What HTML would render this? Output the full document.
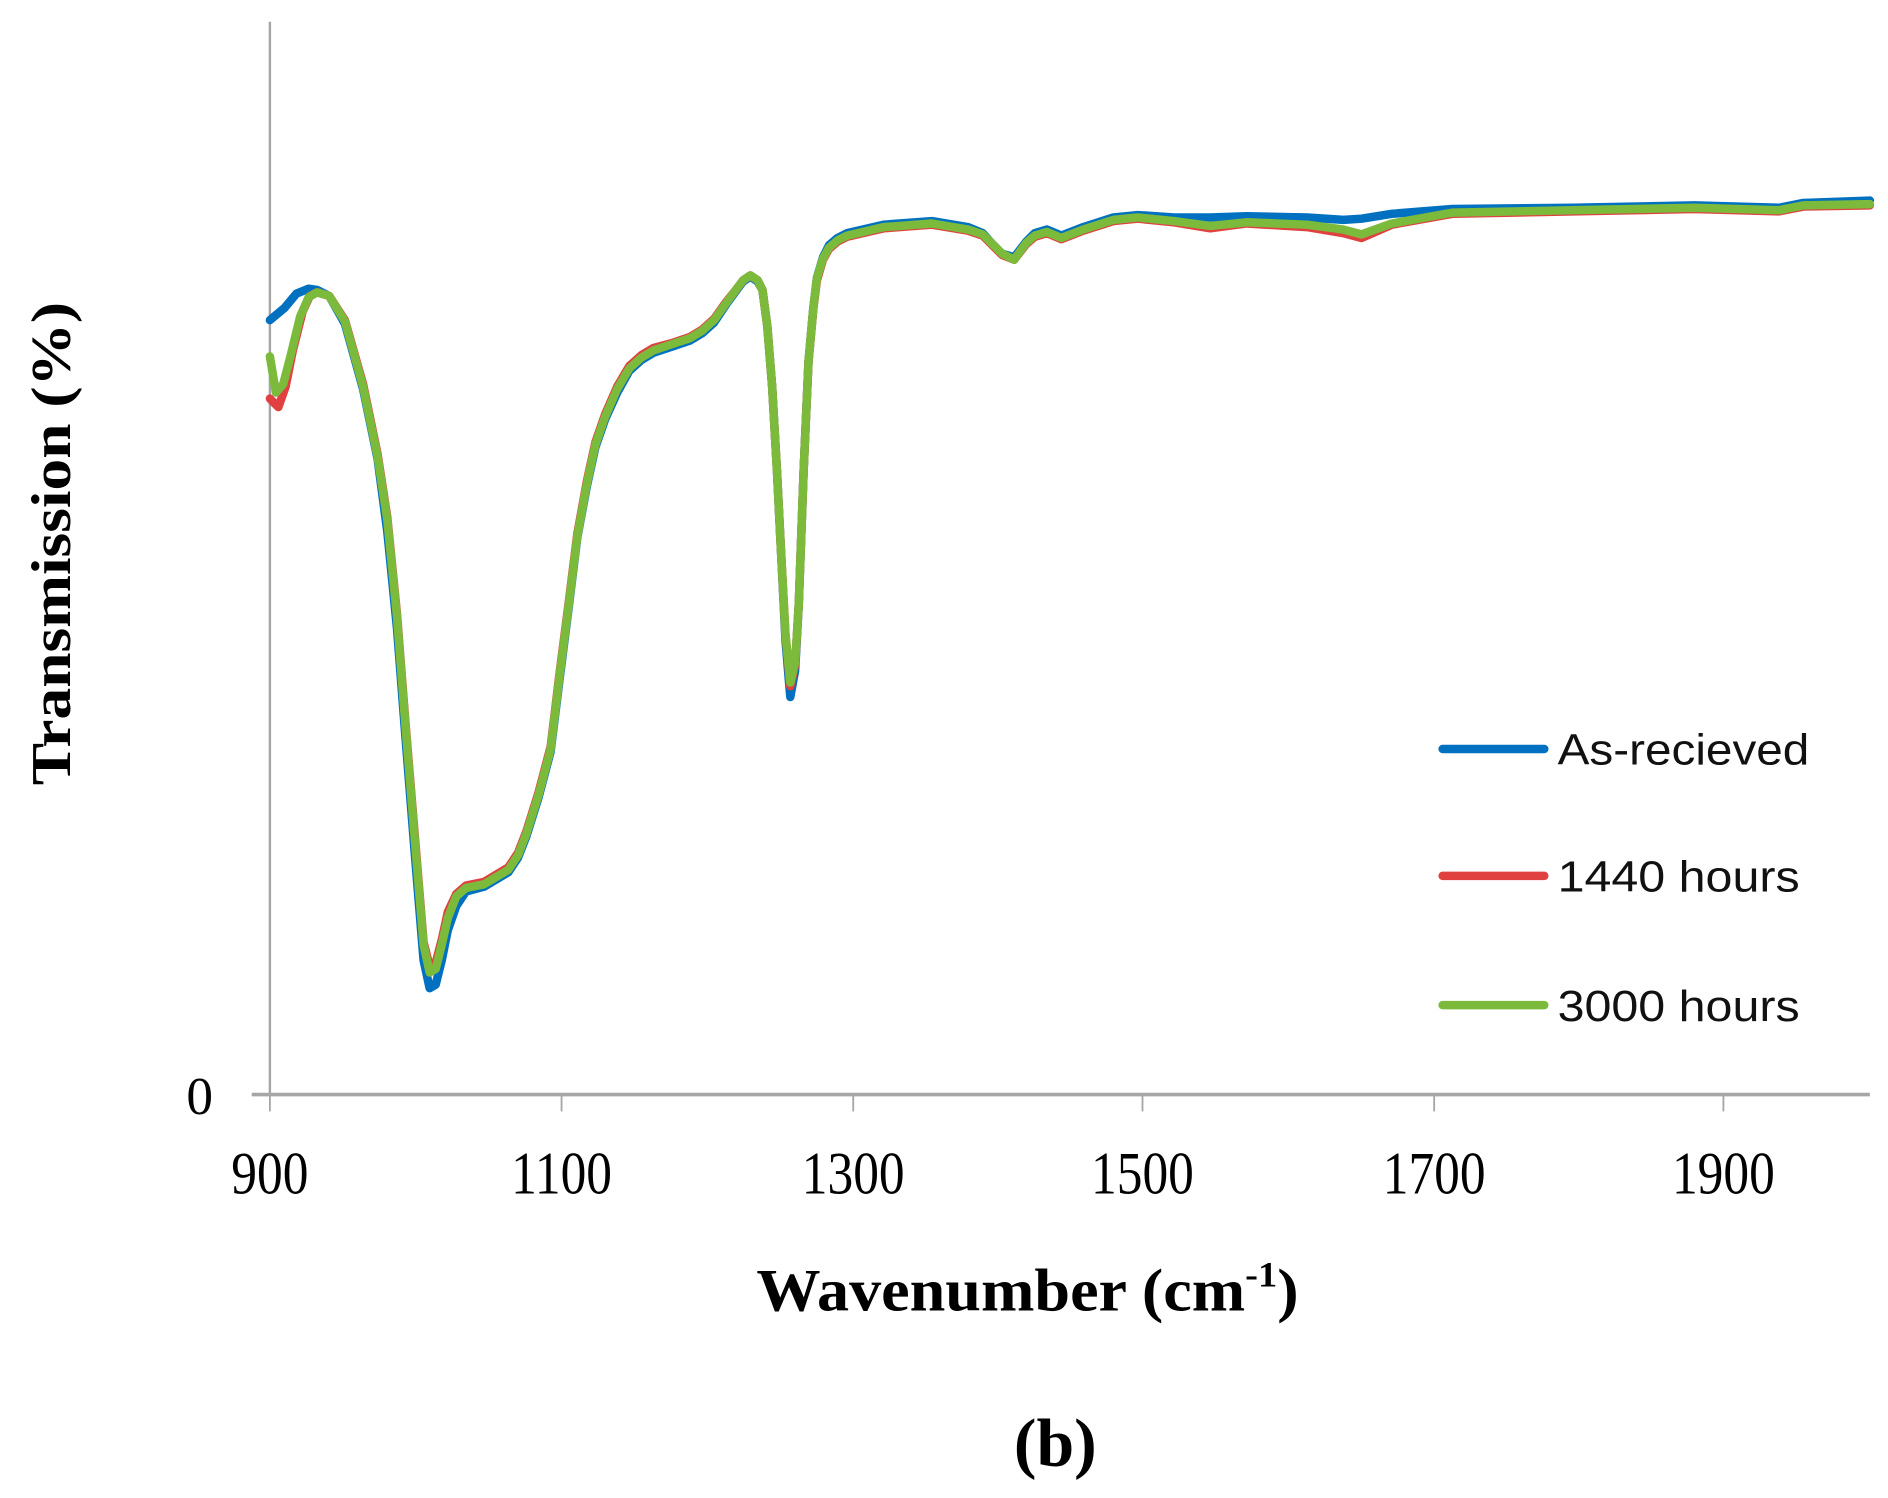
<!DOCTYPE html>
<html><head><meta charset="utf-8"><style>
html,body{margin:0;padding:0;background:#fff}
svg{display:block}
</style></head><body>
<svg width="1888" height="1498" viewBox="0 0 1560 1240" preserveAspectRatio="none" xmlns="http://www.w3.org/2000/svg">
<rect width="1560" height="1240" fill="#fff"/>
<line x1="223" y1="18" x2="223" y2="906" stroke="#a6a6a6" stroke-width="2"/>
<line x1="208" y1="906" x2="1545" y2="906" stroke="#a6a6a6" stroke-width="3"/>
<g stroke="#a6a6a6" stroke-width="1.5">
<line x1="223" y1="906" x2="223" y2="920"/><line x1="464" y1="906" x2="464" y2="920"/><line x1="705" y1="906" x2="705" y2="920"/><line x1="944" y1="906" x2="944" y2="920"/><line x1="1185" y1="906" x2="1185" y2="920"/><line x1="1424" y1="906" x2="1424" y2="920"/>
</g>
<g font-family="Liberation Serif, serif" font-size="50" fill="#000" text-anchor="middle">
<text x="223" y="988" transform="translate(223,0) scale(0.85,1) translate(-223,0)">900</text>
<text x="464" y="988" transform="translate(464,0) scale(0.85,1) translate(-464,0)">1100</text>
<text x="705" y="988" transform="translate(705,0) scale(0.85,1) translate(-705,0)">1300</text>
<text x="944" y="988" transform="translate(944,0) scale(0.85,1) translate(-944,0)">1500</text>
<text x="1185" y="988" transform="translate(1185,0) scale(0.85,1) translate(-1185,0)">1700</text>
<text x="1424" y="988" transform="translate(1424,0) scale(0.85,1) translate(-1424,0)">1900</text>
<text x="165" y="922" font-size="44">0</text>
</g>
<g fill="none" stroke-linejoin="round" stroke-linecap="round" stroke-width="7">
<polyline stroke="#0070c0" points="223,265 235,255 245,243 255,239 262,240 272,245 285,268 300,322 312,380 320,440 328,520 335,610 343,710 350,795 355,818 360,815 365,795 370,770 377,750 385,738 400,734 420,722 428,710 435,692 445,660 455,622 462,565 470,502 477,445 485,402 492,370 500,347 510,325 520,307 530,298 540,292 555,287 570,282 580,276 590,267 600,252 608,241 614,233 620,229 626,233 630,240 634,270 638,320 642,390 645,450 649,530 653,577 657,555 660,500 664,390 668,300 672,255 675,230 680,213 685,203 692,197 700,193 730,186 770,183 800,188 812,193 820,202 828,210 838,213 848,200 855,193 865,190 877,195 895,188 920,180 940,178 970,180 1000,180 1030,179 1080,180 1110,182 1125,181 1150,177 1200,173 1300,172 1400,170 1470,172 1490,168 1545,166"/>
<polyline stroke="#e04040" points="223,330 230,337 236,320 242,290 250,258 256,245 262,242 272,245 285,265 300,318 312,376 320,428 328,508 335,598 343,695 350,780 355,800 360,797 365,778 370,755 377,740 385,733 400,730 420,718 428,706 435,688 445,656 455,618 462,560 470,498 477,442 485,398 492,366 500,343 510,320 520,303 530,294 540,288 555,284 570,279 580,273 590,264 600,250 608,240 614,232 620,228 626,232 630,240 634,270 638,320 642,390 645,450 649,525 653,568 657,550 660,500 664,390 668,300 672,256 675,232 680,215 685,206 692,200 700,196 730,189 770,186 800,191 812,195 820,203 828,211 838,215 848,202 855,196 865,193 877,198 895,191 920,183 940,181 970,184 1000,189 1030,185 1080,188 1110,193 1125,197 1150,186 1200,177 1300,175 1400,173 1470,175 1490,171 1545,170"/>
<polyline stroke="#7cba3c" points="223,295 228,325 234,318 240,295 248,262 255,246 262,242 272,245 285,266 300,320 312,378 320,430 328,510 335,600 343,698 350,782 355,805 360,802 365,782 370,760 377,742 385,735 400,732 420,720 428,708 435,690 445,658 455,620 462,562 470,500 477,444 485,400 492,368 500,345 510,322 520,305 530,296 540,290 555,285 570,280 580,274 590,265 600,251 608,240 614,232 620,228 626,232 630,240 634,270 638,320 642,390 645,450 649,525 653,565 657,548 660,500 664,390 668,300 672,255 675,230 680,214 685,205 692,199 700,195 730,188 770,185 800,190 812,194 820,202 828,210 838,215 848,201 855,195 865,192 877,197 895,190 920,182 940,180 970,183 1000,187 1030,184 1080,186 1110,190 1125,194 1150,185 1200,176 1300,174 1400,172 1470,174 1490,170 1545,169"/>
</g>
<g stroke-width="7" stroke-linecap="round">
<line x1="1192" y1="620" x2="1276" y2="620" stroke="#0070c0"/>
<line x1="1192" y1="725" x2="1276" y2="725" stroke="#e04040"/>
<line x1="1192" y1="832" x2="1276" y2="832" stroke="#7cba3c"/>
</g>
<g font-family="Liberation Sans, sans-serif" font-size="36" fill="#111">
<text x="1287" y="633" textLength="208" lengthAdjust="spacingAndGlyphs">As-recieved</text>
<text x="1287" y="738" textLength="200" lengthAdjust="spacingAndGlyphs">1440 hours</text>
<text x="1287" y="845" textLength="200" lengthAdjust="spacingAndGlyphs">3000 hours</text>
</g>
<text transform="translate(58,450) rotate(-90)" text-anchor="middle" font-family="Liberation Serif, serif" font-weight="bold" font-size="46" textLength="400" lengthAdjust="spacingAndGlyphs">Transmission (%)</text>
<text x="625" y="1085" font-family="Liberation Serif, serif" font-weight="bold" font-size="50" textLength="448" lengthAdjust="spacingAndGlyphs">Wavenumber (cm<tspan font-size="30" dy="-20">-1</tspan><tspan dy="20">)</tspan></text>
<text x="872" y="1213" text-anchor="middle" font-family="Liberation Serif, serif" font-weight="bold" font-size="56">(b)</text>
</svg>
</body></html>
